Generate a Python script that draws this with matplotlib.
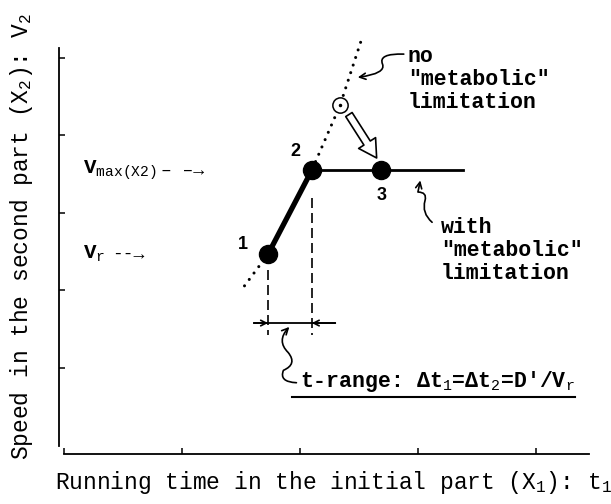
import matplotlib
matplotlib.use("Agg")
import matplotlib.pyplot as plt
from matplotlib.patches import FancyArrowPatch
from matplotlib.path import Path

plt.rcParams['font.family'] = ['Liberation Mono', 'DejaVu Sans Mono']
plt.rcParams['mathtext.fontset'] = 'custom'
plt.rcParams['mathtext.rm'] = 'Liberation Mono'
plt.rcParams['mathtext.it'] = 'Liberation Mono'
plt.rcParams['mathtext.bf'] = 'Liberation Mono:bold'

# states 1, 2, 3 (running time t1, speed v2)
point_t = [1.73, 2.10, 2.69]
point_v = [2.47, 3.55, 3.55]
point_labels = ['1', '2', '3']

# speed curve without metabolic limitation (dotted)
free_t = [1.53, 1.73, 2.10, 2.34, 2.52]
free_v = [2.06, 2.47, 3.55, 4.39, 5.23]
unlimited_t = 2.34
unlimited_v = 4.39

v_max = 3.55
v_r = 2.47
plateau_end = 3.38
range_y = 1.58

x_ticks = [0, 1, 2, 3, 4]
y_ticks = [1, 2, 3, 4, 5]

W, H = 611, 504
fig = plt.figure(figsize=(W / 100, H / 100), dpi=100)
ax = fig.add_axes([64 / W, (H - 445.5) / H, 525 / W, 397.6 / H])
ax.set_xlim(0, 4.45)
ax.set_ylim(0, 5.13)

for s in ['top', 'right']:
    ax.spines[s].set_visible(False)
ax.spines['left'].set_position(('outward', 3.6))
ax.spines['bottom'].set_position(('outward', 6.1))
ax.spines['left'].set_linewidth(1.3)
ax.spines['bottom'].set_linewidth(1.3)
ax.set_xticks(x_ticks)
ax.set_yticks(y_ticks)
ax.tick_params(direction='in', length=4.5, width=1.1,
               labelleft=False, labelbottom=False)

# dotted curve (no limitation)
ax.plot(free_t, free_v, color='black', lw=2.2, linestyle=(0, (0.01, 2.6)),
        dash_capstyle='round', clip_on=False)
# solid part 1 -> 2 and plateau 2 -> 3
ax.plot(point_t[:2], point_v[:2], color='black', lw=3.8, solid_capstyle='round')
ax.plot([point_t[1], plateau_end], [v_max, v_max], color='black', lw=2.0)
ax.plot(point_t, point_v, 'o', color='black', markersize=13)

# open circle on the unlimited curve
ax.plot(unlimited_t, unlimited_v, 'o', mfc='white', mec='black',
        markersize=11, mew=1.1)
ax.plot(unlimited_t, unlimited_v, '.', color='black', markersize=3)

# number labels
label_off = [(-0.21, 0.12), (-0.14, 0.24), (0.0, -0.32)]
for t, v, lab, (dx, dy) in zip(point_t, point_v, point_labels, label_off):
    ax.text(t + dx, v + dy, lab, family='Liberation Sans', weight='bold',
            fontsize=13, ha='center', va='center')

# hollow arrow from open circle to 3
ax.add_patch(FancyArrowPatch((2.415, 4.27), (2.65, 3.71),
                             arrowstyle='simple,head_length=0.75,head_width=0.85,tail_width=0.32',
                             mutation_scale=17, fc='white', ec='black', lw=1.2,
                             shrinkA=0, shrinkB=0))

# dashed verticals and the t-range dimension line
ax.plot([point_t[0], point_t[0]], [2.26, 1.43], color='black', lw=1.2,
        linestyle=(0, (6, 3)))
ax.plot([point_t[1], point_t[1]], [3.19, 1.43], color='black', lw=1.2,
        linestyle=(0, (6, 3)))
ax.plot([1.61, 2.30], [range_y, range_y], color='black', lw=1.3)
ax.annotate('', xy=(point_t[0], range_y), xytext=(1.61, range_y),
            arrowprops=dict(arrowstyle='->', lw=1.2, shrinkA=0, shrinkB=0))
ax.annotate('', xy=(point_t[1], range_y), xytext=(2.30, range_y),
            arrowprops=dict(arrowstyle='->', lw=1.2, shrinkA=0, shrinkB=0))

# squiggly pointers
M, C3, L = Path.MOVETO, Path.CURVE3, Path.LINETO
squiggles = [
    ([(2.88, 5.05), (2.66, 5.06), (2.70, 4.92), (2.73, 4.80), (2.49, 4.75)],
     [M, C3, C3, C3, C3], '->'),
    ([(3.12, 2.88), (3.03, 3.00), (3.06, 3.16), (3.08, 3.27), (3.00, 3.27), (3.02, 3.42)],
     [M, C3, C3, C3, C3, L], '->'),
    ([(1.91, 1.53), (1.80, 1.35), (1.90, 1.20), (1.98, 1.05), (1.86, 0.97),
      (1.82, 0.82), (1.97, 0.81)],
     [M, C3, C3, C3, C3, C3, C3], '<-'),
]
for verts, codes, style in squiggles:
    ax.add_patch(FancyArrowPatch(path=Path(verts, codes), arrowstyle=style,
                                 mutation_scale=11, lw=1.2, color='black',
                                 clip_on=False))

# annotations
ax.text(2.915, 4.72, 'no\n"metabolic"\nlimitation', fontsize=15.5,
        weight='bold', ha='left', va='center', linespacing=1.12)
ax.text(3.195, 2.52, 'with\n"metabolic"\nlimitation', fontsize=15.5,
        weight='bold', ha='left', va='center', linespacing=1.12)
ax.text(2.0, 0.82, "t-range: Δt$_1$=Δt$_2$=D'/V$_r$", fontsize=15.5,
        weight='bold', ha='left', va='center')
ax.plot([1.93, 4.33], [0.63, 0.63], color='black', lw=1.5)

ax.text(0.16, v_max, r'V$_{\mathrm{max(X2)}}$', fontsize=15, weight='bold',
        ha='left', va='center')
ax.text(0.82, v_max, '– –→', fontsize=13, ha='left', va='center')
ax.text(0.16, v_r, 'V$_r$', fontsize=15, weight='bold', ha='left', va='center')
ax.text(0.41, v_r, '--→', fontsize=13, ha='left', va='center')

fig.text(55 / W, 1 - 483 / H, 'Running time in the initial part (X$_1$): t$_1$',
         fontsize=16.5, ha='left', va='center')
fig.text(22 / W, 1 - 460 / H, 'Speed in the second part (X$_2$): V$_2$',
         fontsize=16.5, rotation=90, ha='center', va='bottom')

fig.savefig('out.png', dpi=100)
